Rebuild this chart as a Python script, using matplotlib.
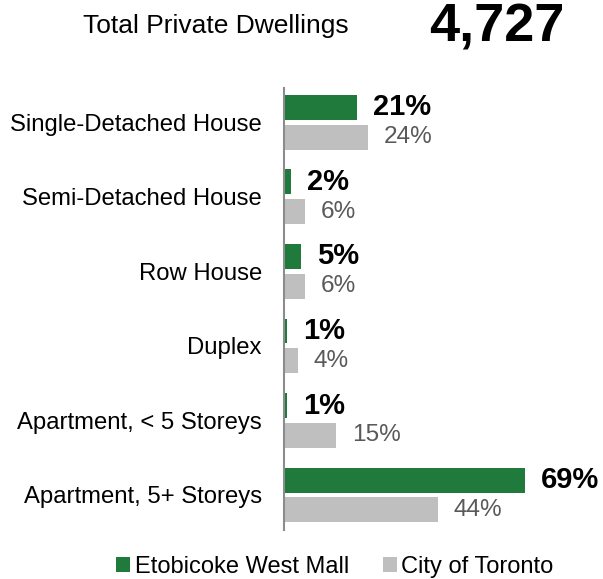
import numpy as np
import matplotlib.pyplot as plt

plt.rcParams['font.family'] = ['Liberation Sans', 'DejaVu Sans']

categories = ['Single-Detached House', 'Semi-Detached House', 'Row House',
              'Duplex', 'Apartment, < 5 Storeys', 'Apartment, 5+ Storeys']
local_pct = [21, 2, 5, 1, 1, 69]
toronto_pct = [24, 6, 6, 4, 15, 44]
series_names = ['Etobicoke West Mall', 'City of Toronto']
total_dwellings = 4727

green = '#1f7a3b'
grey = '#bfbfbf'

fig = plt.figure(figsize=(6.03, 5.79), dpi=100)
ax = fig.add_axes([284 / 603, 1 - 530 / 579, 1 - 284 / 603, 442 / 579])

y = np.arange(len(categories))
h = 0.335
off = 0.2
ax.barh(y - off, local_pct, height=h, color=green, label=series_names[0])
ax.barh(y + off, toronto_pct, height=h, color=grey, label=series_names[1])

ax.set_xlim(0, (603 - 284) / 3.49)
ax.set_ylim(5.47, -0.46)

# value labels just past the end of each bar
pad = 16 / 3.49
for yi, v in zip(y, local_pct):
    ax.text(v + pad, yi - off, f'{v}%', va='center', ha='left',
            fontsize=21, fontweight='bold', color='black')
for yi, v in zip(y, toronto_pct):
    ax.text(v + pad, yi + off, f'{v}%', va='center', ha='left',
            fontsize=17.6, color='#595959')

ax.set_yticks(y)
ax.set_yticklabels(categories, fontsize=17.2)
ax.tick_params(axis='y', length=0, pad=16)
ax.set_xticks([])
for s in ['top', 'right', 'bottom']:
    ax.spines[s].set_visible(False)
ax.spines['left'].set_color('#8c8c8c')
ax.spines['left'].set_linewidth(1.5)

fig.text(216 / 603, 1 - 26 / 579, 'Total Private Dwellings', ha='center',
         va='center', fontsize=19)
fig.text(497 / 603, 1 - 28 / 579, f'{total_dwellings:,}', ha='center',
         va='center', fontsize=39, fontweight='bold')

fig.legend(loc='center', bbox_to_anchor=(335 / 603, 1 - 567 / 579), ncol=2,
           frameon=False, fontsize=17, handlelength=0.6, handleheight=0.6,
           handletextpad=0.2, columnspacing=1.4)

fig.savefig('out.png', dpi=100)
